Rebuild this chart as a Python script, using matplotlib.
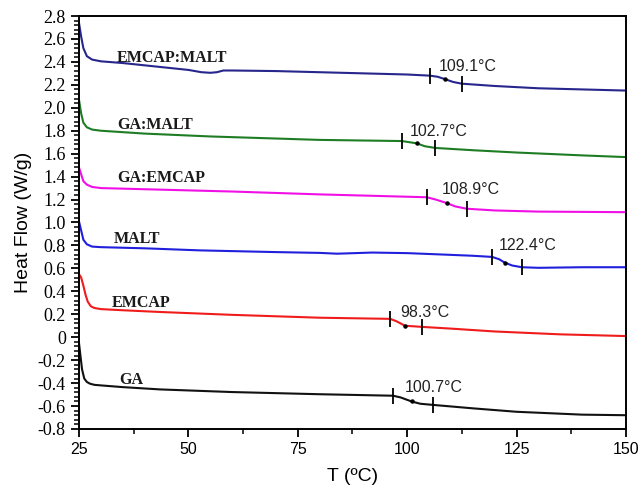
import matplotlib
matplotlib.use("Agg")
import matplotlib.pyplot as plt
from matplotlib.ticker import MultipleLocator, AutoMinorLocator, FuncFormatter

plt.rcParams['axes.unicode_minus'] = False

# DSC curves: temperature (C) and heat flow (W/g)
t_emcap_malt = [25, 25.5, 26, 26.8, 28, 30, 35, 40, 45, 50, 53, 55, 56.5, 58, 60, 70, 80, 90, 100, 105.2, 107, 108.6, 110.5, 112.5, 120, 130, 140, 150]
hf_emcap_malt = [2.74, 2.62, 2.52, 2.45, 2.42, 2.405, 2.39, 2.37, 2.35, 2.33, 2.31, 2.305, 2.31, 2.325, 2.325, 2.32, 2.31, 2.30, 2.29, 2.28, 2.27, 2.25, 2.225, 2.21, 2.19, 2.17, 2.16, 2.15]

t_ga_malt = [25, 25.5, 26, 26.8, 28, 30, 40, 55, 80, 98.8, 100.5, 102.2, 104, 106.4, 115, 125, 140, 150]
hf_ga_malt = [2.07, 1.95, 1.87, 1.83, 1.81, 1.80, 1.775, 1.75, 1.72, 1.71, 1.70, 1.69, 1.665, 1.65, 1.63, 1.61, 1.585, 1.57]

t_ga_emcap = [25, 25.5, 26, 26.8, 28, 30, 40, 60, 80, 104.5, 106.5, 109, 111, 113.6, 120, 130, 150]
hf_ga_emcap = [1.48, 1.42, 1.36, 1.33, 1.31, 1.30, 1.29, 1.27, 1.245, 1.22, 1.20, 1.17, 1.14, 1.12, 1.105, 1.095, 1.09]

t_malt = [25, 25.5, 26, 26.8, 28, 30, 40, 52.6, 70, 80, 84, 88, 92, 100, 108.6, 115, 119.4, 121, 122.3, 124, 126.2, 130, 140, 150]
hf_malt = [1.01, 0.93, 0.85, 0.81, 0.79, 0.785, 0.775, 0.757, 0.742, 0.735, 0.728, 0.733, 0.738, 0.733, 0.72, 0.71, 0.70, 0.68, 0.65, 0.625, 0.61, 0.605, 0.61, 0.61]

t_emcap = [25, 25.5, 26, 26.5, 27, 27.7, 28.5, 30, 35, 43.5, 60, 80, 96.1, 97.5, 99.5, 101.5, 103.4, 110, 120, 135, 150]
hf_emcap = [0.55, 0.52, 0.45, 0.37, 0.31, 0.27, 0.255, 0.245, 0.235, 0.22, 0.195, 0.17, 0.16, 0.14, 0.10, 0.095, 0.09, 0.075, 0.05, 0.025, 0.01]

t_ga = [25, 25.3, 25.7, 26.2, 26.8, 27.5, 28.5, 30, 35, 43.5, 60, 80, 96.8, 98.5, 101, 103, 105.9, 115, 125, 140, 150]
hf_ga = [-0.05, -0.15, -0.28, -0.36, -0.39, -0.405, -0.415, -0.42, -0.435, -0.455, -0.478, -0.497, -0.51, -0.525, -0.56, -0.58, -0.59, -0.62, -0.65, -0.675, -0.68]

names = ['EMCAP:MALT', 'GA:MALT', 'GA:EMCAP', 'MALT', 'EMCAP', 'GA']
temps = [t_emcap_malt, t_ga_malt, t_ga_emcap, t_malt, t_emcap, t_ga]
flows = [hf_emcap_malt, hf_ga_malt, hf_ga_emcap, hf_malt, hf_emcap, hf_ga]
colors = ['#26268c', '#1e7d24', '#f010e6', '#2020dc', '#f01c1c', '#111111']

# glass transition: onset, midpoint (Tg), endset temperatures
tg_onset = [105.2, 98.8, 104.5, 119.4, 96.1, 96.8]
tg_mid = [108.6, 102.2, 109.0, 122.3, 99.5, 101.0]
tg_end = [112.5, 106.4, 113.6, 126.2, 103.4, 105.9]
tg_labels = ['109.1°C', '102.7°C', '108.9°C', '122.4°C', '98.3°C', '100.7°C']

# where the text sits (left, bottom) and where the sample names go
tg_text_pos = [(107.3, 2.296), (100.6, 1.73), (108.0, 1.22), (121.0, 0.73), (98.4, 0.148), (99.5, -0.504)]
name_pos = [(33.7, 2.43), (33.7, 1.85), (33.7, 1.39), (33.0, 0.86), (32.5, 0.30), (34.1, -0.37)]


def hf_at(tt, hh, x):
    for i in range(len(tt) - 1):
        if tt[i] <= x <= tt[i + 1]:
            f = (x - tt[i]) / (tt[i + 1] - tt[i])
            return hh[i] + f * (hh[i + 1] - hh[i])
    return hh[-1]


fig = plt.figure(figsize=(6.38, 4.94), dpi=100)
ax = fig.add_axes([0.1238, 0.1316, 0.8574, 0.836])

for i in range(len(names)):
    tt, hh = temps[i], flows[i]
    ax.plot(tt, hh, color=colors[i], lw=1.5)
    for x in (tg_onset[i], tg_end[i]):
        ax.plot([x], [hf_at(tt, hh, x)], marker='|', ms=11, mew=1.3, color='black')
    ax.plot([tg_mid[i]], [hf_at(tt, hh, tg_mid[i])], marker='o', ms=2.2, color='black')
    ax.text(tg_text_pos[i][0], tg_text_pos[i][1], tg_labels[i], fontsize=11.5,
            family='Liberation Sans', ha='left', va='bottom', color='#222222')
    ax.text(name_pos[i][0], name_pos[i][1], names[i], fontsize=11.5, fontweight='bold',
            family='Liberation Serif', ha='left', va='center', color='#1a1a1a')

ax.set_xlim(25, 150)
ax.set_ylim(-0.8, 2.8)
ax.xaxis.set_major_locator(MultipleLocator(25))
ax.xaxis.set_minor_locator(AutoMinorLocator(2))
ax.yaxis.set_major_locator(MultipleLocator(0.2))
ax.yaxis.set_minor_locator(AutoMinorLocator(5))
ax.yaxis.set_major_formatter(FuncFormatter(lambda v, p: '0' if abs(v) < 1e-9 else f'{v:.1f}'))

ax.tick_params(axis='both', which='major', direction='out', length=6, width=1.3)
ax.tick_params(axis='both', which='minor', direction='out', length=3.5, width=1.1)
for lab in ax.get_yticklabels():
    lab.set_family('Liberation Serif')
    lab.set_fontsize(13)
for lab in ax.get_xticklabels():
    lab.set_family('Liberation Sans')
    lab.set_fontsize(11.5)
for sp in ax.spines.values():
    sp.set_linewidth(1.4)

ax.set_xlabel('T (ºC)', fontsize=14, family='Liberation Sans', labelpad=8)
ax.set_ylabel('Heat Flow (W/g)', fontsize=14, family='Liberation Sans', labelpad=4)

fig.savefig('out.png', dpi=100)
